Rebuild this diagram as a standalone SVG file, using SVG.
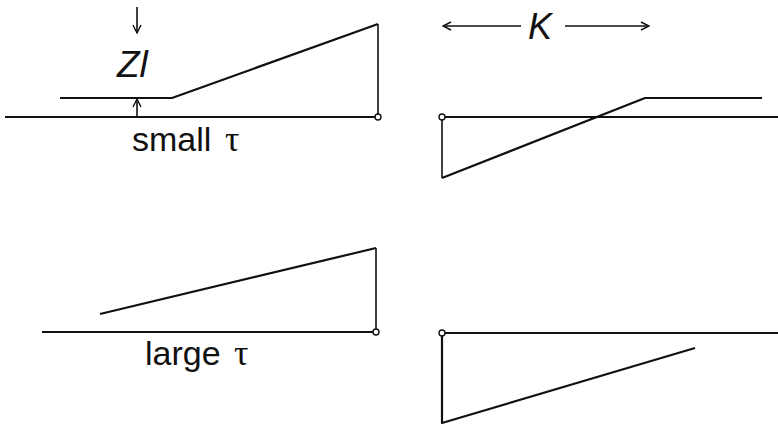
<svg xmlns="http://www.w3.org/2000/svg" width="778" height="426" viewBox="0 0 778 426">
<defs>
<marker id="ah" viewBox="0 0 10 10" refX="9" refY="5" markerWidth="10" markerHeight="10" markerUnits="userSpaceOnUse" orient="auto">
<path d="M1,1 L9,5 L1,9" fill="none" stroke="#111" stroke-width="1.4"/>
</marker>
<style>
.ln{fill:none;stroke:#111;stroke-width:2.2;stroke-linejoin:round}
.th{fill:none;stroke:#111;stroke-width:1.6}
.pt{fill:#fff;stroke:#111;stroke-width:1.4}
.lb{font-family:"Liberation Sans",Arial,sans-serif;fill:#111}
.tau{font-family:"Liberation Serif","Times New Roman",serif;fill:#111;font-size:36px}
</style>
</defs>
<rect width="778" height="426" fill="#fff"/>
<g id="small-tau-left">
<line class="ln" x1="5" y1="117" x2="378" y2="117"/>
<polyline class="ln" points="60,98 172,98 378,24"/>
<line class="th" x1="378" y1="24" x2="378" y2="117"/>
<circle class="pt" cx="378" cy="117" r="3"/>
<line class="th" x1="137" y1="7" x2="137" y2="33" marker-end="url(#ah)"/>
<line class="th" x1="137" y1="117" x2="137" y2="99" marker-end="url(#ah)"/>
<text class="lb" x="117" y="77" font-size="37" font-style="italic">Zl</text>
<text class="lb" x="132" y="151" font-size="34">small <tspan class="tau" x="225">τ</tspan></text>
</g>
<g id="small-tau-right">
<line class="ln" x1="442" y1="117" x2="778" y2="117"/>
<polyline class="ln" points="442,178 645,98 762,98"/>
<line class="th" x1="442" y1="117" x2="442" y2="178"/>
<circle class="pt" cx="442" cy="117" r="3"/>
<line class="th" x1="521" y1="26" x2="443" y2="26" marker-end="url(#ah)"/>
<line class="th" x1="565" y1="26" x2="649" y2="26" marker-end="url(#ah)"/>
<text class="lb" x="528" y="39" font-size="36" font-style="italic">K</text>
</g>
<g id="large-tau-left">
<line class="ln" x1="42" y1="332" x2="376" y2="332"/>
<line class="ln" x1="100" y1="314" x2="376" y2="248"/>
<line class="th" x1="376" y1="248" x2="376" y2="332"/>
<circle class="pt" cx="376" cy="332" r="3"/>
<text class="lb" x="145" y="365" font-size="34">large <tspan class="tau" x="234">τ</tspan></text>
</g>
<g id="large-tau-right">
<line class="ln" x1="442" y1="333" x2="778" y2="333"/>
<polyline class="ln" points="442,333 442,423 695,348"/>
<circle class="pt" cx="442" cy="333" r="3"/>
</g>
</svg>
